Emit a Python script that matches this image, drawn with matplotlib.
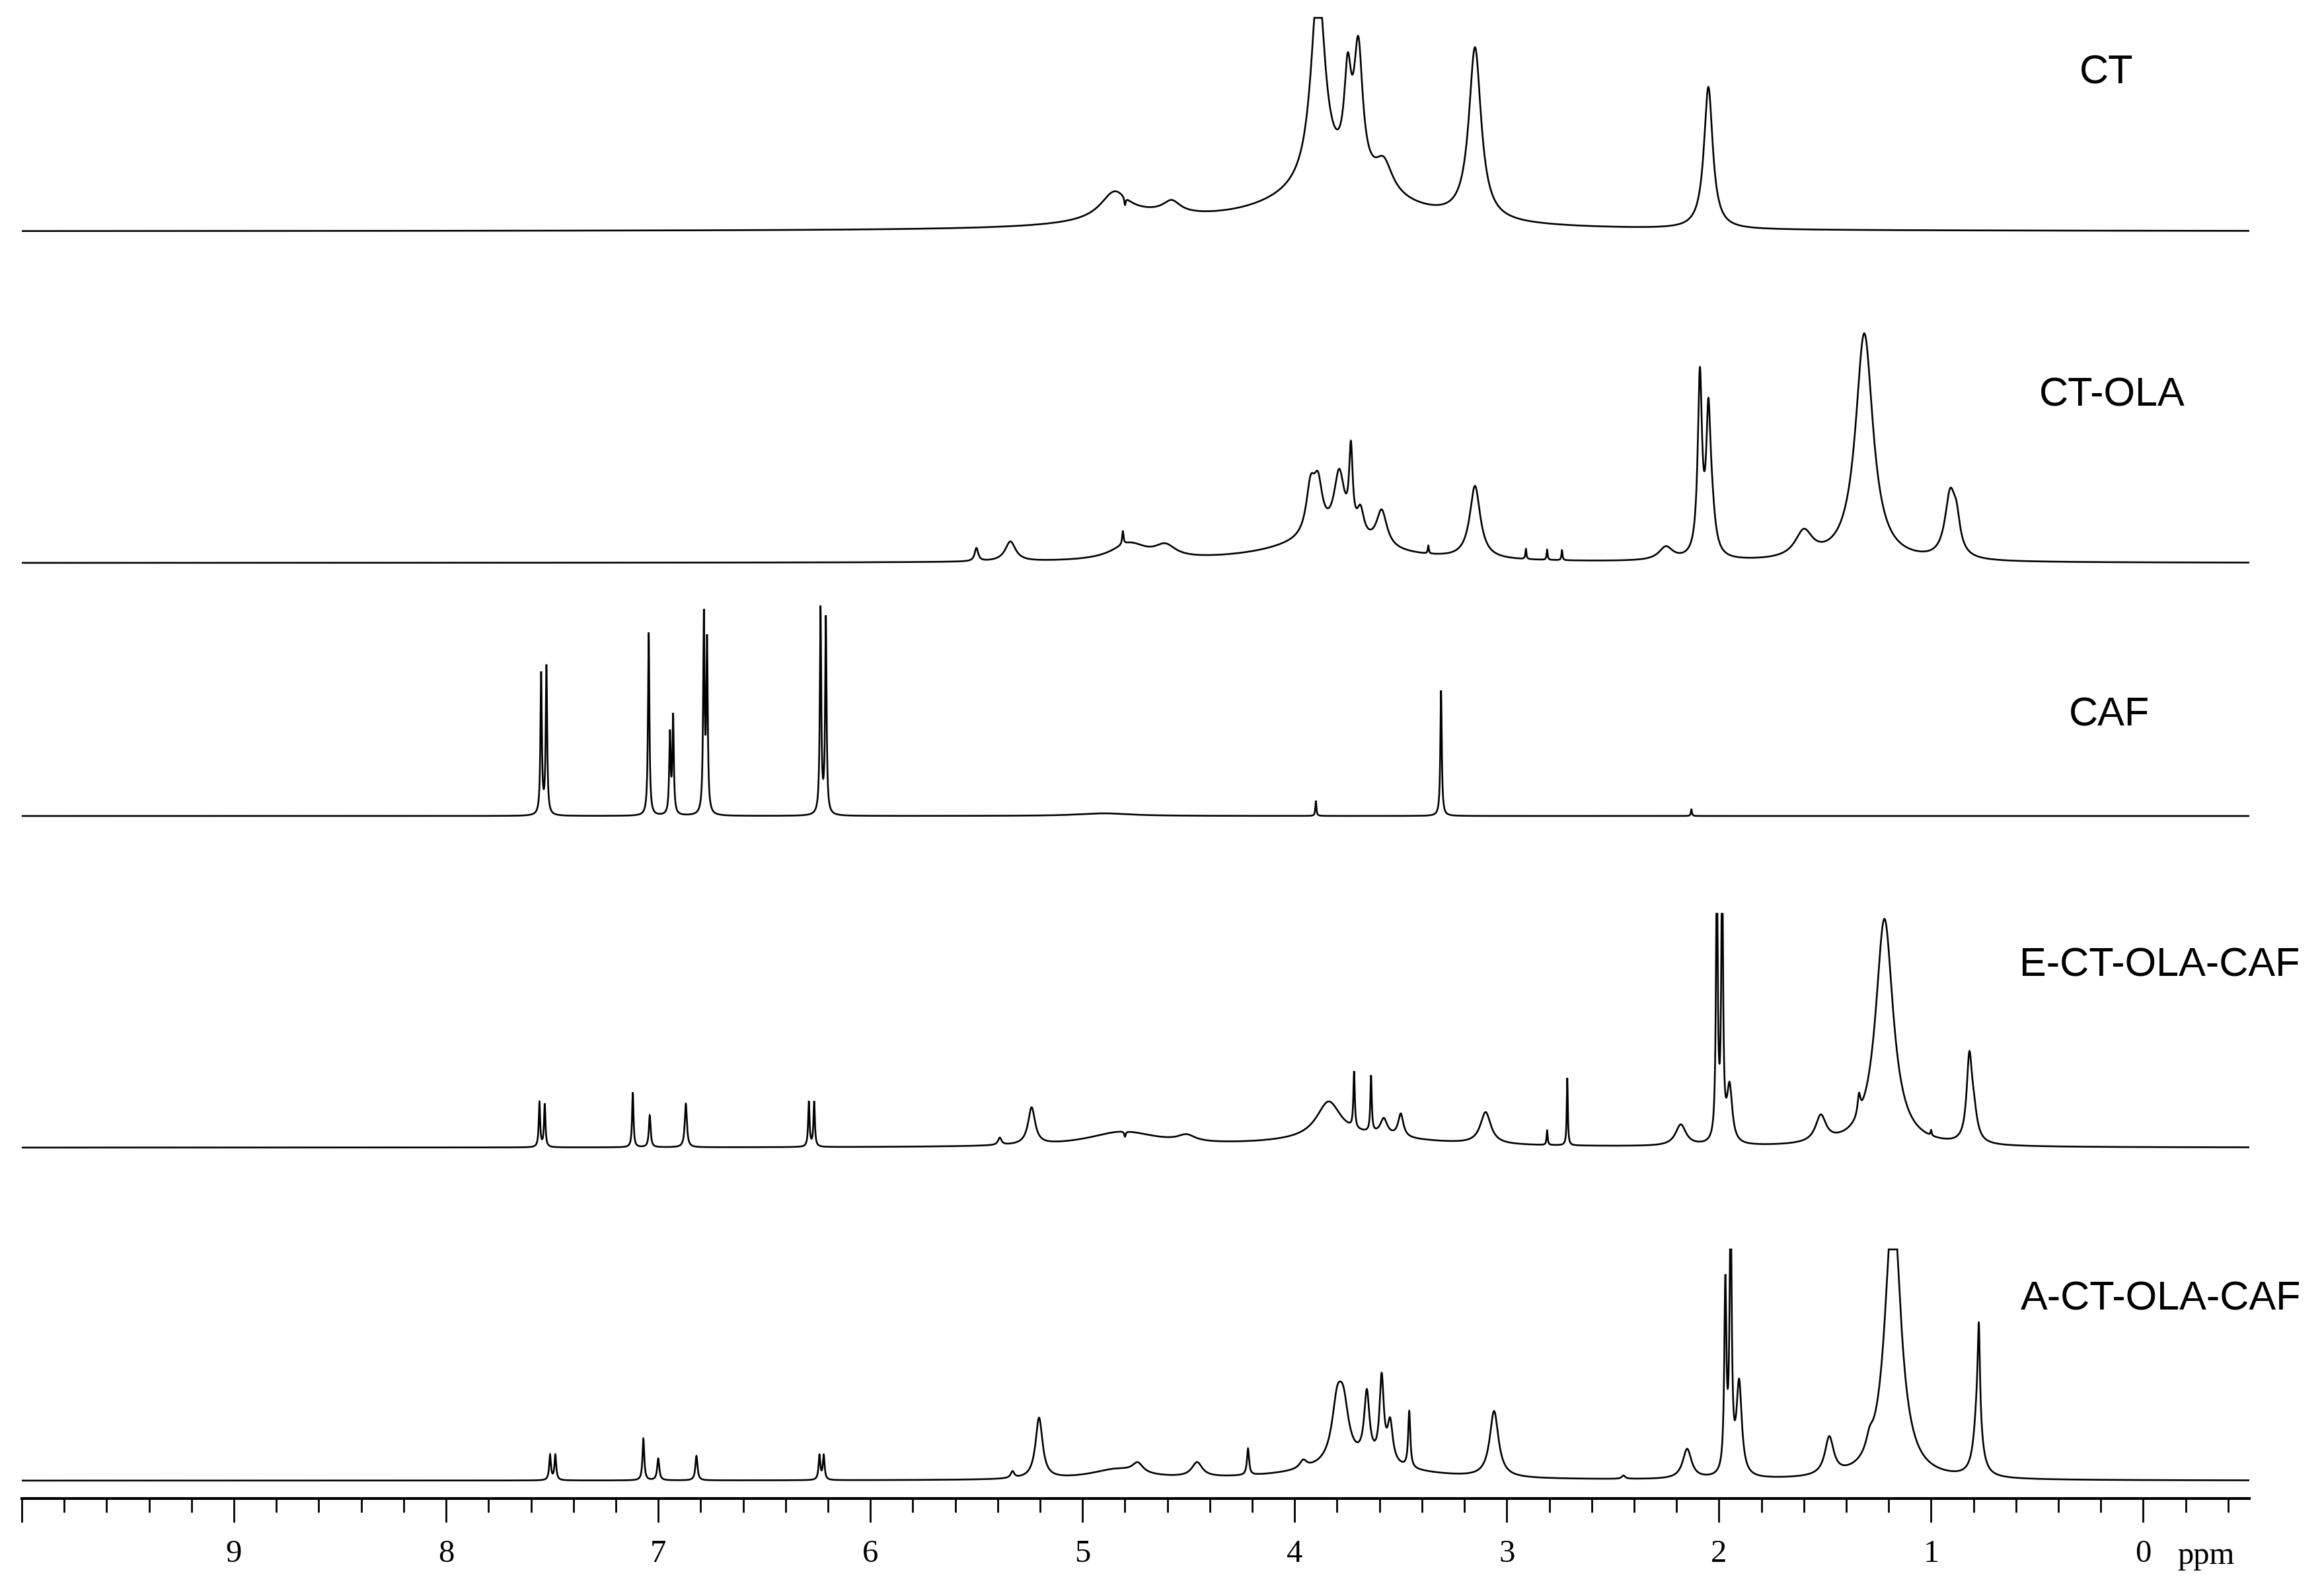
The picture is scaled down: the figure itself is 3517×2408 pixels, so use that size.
import numpy as np
import matplotlib
matplotlib.use("Agg")
import matplotlib.pyplot as plt
from matplotlib.ticker import FixedLocator

# ---------------- data (peak tables) ----------------
labels = ["CT", "CT-OLA", "CAF", "E-CT-OLA-CAF", "A-CT-OLA-CAF"]

# CT
ct_ppm = [3.89, 3.75, 3.70, 3.58, 3.80, 3.15, 2.05, 4.85, 4.70, 4.58, 4.80]
ct_int = [300, 135, 190, 45, 70, 260, 215, 40, 15, 18, -12]
ct_hw = [0.04, 0.02, 0.025, 0.05, 0.35, 0.035, 0.025, 0.08, 0.3, 0.05, 0.004]

# CT-OLA
ctola_ppm = [5.50, 5.34, 4.81, 4.78, 4.61, 3.85, 3.925, 3.89, 3.79, 3.735, 3.69, 3.59,
             3.37, 3.15, 2.91, 2.81, 2.74, 2.25, 2.09, 2.05, 2.035, 1.60, 1.315, 0.91, 0.88]
ctola_int = [20, 30, 20, 25, 18, 35, 70, 70, 95, 120, 40, 55,
             12, 110, 15, 15, 15, 20, 270, 185, 60, 40, 345, 95, 40]
ctola_hw = [0.01, 0.03, 0.004, 0.1, 0.06, 0.3, 0.025, 0.025, 0.03, 0.01, 0.02, 0.03,
            0.003, 0.03, 0.003, 0.003, 0.003, 0.04, 0.012, 0.012, 0.02, 0.05, 0.05, 0.03, 0.02]

# CAF
caf_ppm = [7.552, 7.527, 7.045, 6.945, 6.93, 6.785, 6.77, 6.235, 6.21, 3.90, 3.31, 2.13, 4.90]
caf_int = [213, 224, 277, 120, 147, 296, 255, 310, 296, 23, 190, 10, 4]
caf_hw = [0.004, 0.004, 0.004, 0.004, 0.004, 0.004, 0.004, 0.004, 0.004, 0.003, 0.004, 0.003, 0.15]

# E-CT-OLA-CAF
e_ppm = [7.56, 7.535, 7.12, 7.04, 6.87, 6.29, 6.265, 5.39, 5.24, 4.81, 4.80, 4.51,
         3.84, 3.70, 3.72, 3.64, 3.58, 3.50, 3.10, 2.81, 2.715, 2.18, 2.01, 1.985,
         1.95, 1.52, 1.34, 1.22, 1.00, 0.82, 0.80]
e_int = [68, 65, 83, 48, 66, 68, 68, 11, 56, 22, -8, 10,
         55, 15, 85, 85, 25, 35, 48, 22, 102, 32, 420, 420,
         85, 40, 30, 345, 8, 120, 40]
e_hw = [0.004, 0.004, 0.004, 0.005, 0.006, 0.004, 0.004, 0.01, 0.02, 0.2, 0.004, 0.05,
        0.07, 0.4, 0.004, 0.004, 0.02, 0.015, 0.03, 0.003, 0.003, 0.03, 0.005, 0.005,
        0.015, 0.03, 0.008, 0.05, 0.003, 0.015, 0.02]

# A-CT-OLA-CAF
a_ppm = [7.51, 7.485, 7.07, 7.00, 6.82, 6.24, 6.22, 5.33, 5.205, 4.84, 4.74, 4.46,
         4.22, 3.96, 3.80, 3.77, 3.70, 3.66, 3.59, 3.55, 3.46, 3.06, 2.45, 2.15,
         1.97, 1.945, 1.905, 1.48, 1.29, 1.18, 0.775, 0.78]
a_int = [38, 38, 63, 33, 37, 37, 37, 10, 92, 15, 15, 22,
         40, 12, 80, 75, 25, 100, 125, 60, 85, 100, 5, 45,
         280, 400, 140, 57, 20, 420, 130, 110]
a_hw = [0.005, 0.005, 0.005, 0.006, 0.006, 0.005, 0.005, 0.01, 0.02, 0.15, 0.03, 0.03,
        0.006, 0.02, 0.03, 0.03, 0.3, 0.015, 0.012, 0.015, 0.006, 0.025, 0.01, 0.025,
        0.006, 0.006, 0.015, 0.025, 0.02, 0.045, 0.006, 0.02]

# vertical offsets of each trace and plotter clipping level
offsets = [1918, 1416, 1033, 531, 27]
clips = [323, 1000, 1000, 354, 350]

major_ticks = [0, 1, 2, 3, 4, 5, 6, 7, 8, 9, 10]
major_labels = ["0", "1", "2", "3", "4", "5", "6", "7", "8", "9", ""]

# ---------------- drawing ----------------
W, H = 3517, 2408
fig = plt.figure(figsize=(W / 100, H / 100), dpi=100)
fig.patch.set_facecolor("white")

ax_left, ax_right, ax_bottom = 33, 3404, 2268
ax = fig.add_axes([ax_left / W, (H - ax_bottom) / H, (ax_right - ax_left) / W, ax_bottom / H])
ax.set_xlim(10, -0.5)
ax.set_ylim(0, ax_bottom)

x = np.linspace(10, -0.5, 80000)


def spectrum(ppm, inten, hw):
    y = np.zeros_like(x)
    for p, h, w in zip(ppm, inten, hw):
        y += h / (1.0 + ((x - p) / w) ** 2)
    return y


tables = [(ct_ppm, ct_int, ct_hw), (ctola_ppm, ctola_int, ctola_hw),
          (caf_ppm, caf_int, caf_hw), (e_ppm, e_int, e_hw), (a_ppm, a_int, a_hw)]

for (pp, ii, ww), off, clip in zip(tables, offsets, clips):
    y = np.minimum(spectrum(pp, ii, ww), clip)
    ax.plot(x, off + y, color="black", lw=1.9, solid_joinstyle="miter")

for sp in ["top", "left", "right"]:
    ax.spines[sp].set_visible(False)
ax.spines["bottom"].set_linewidth(3.0)
ax.set_yticks([])

ax.xaxis.set_major_locator(FixedLocator(major_ticks))
ax.set_xticklabels(major_labels)
minor = [round(v, 1) for v in np.arange(-0.4, 10.0, 0.2) if abs(v - round(v)) > 1e-6]
ax.xaxis.set_minor_locator(FixedLocator(minor))
ax.tick_params(axis="x", which="major", direction="out", length=26, width=2.0,
               pad=19, labelsize=35)
ax.tick_params(axis="x", which="minor", direction="out", length=15, width=2.0)
for lab in ax.get_xticklabels():
    lab.set_fontfamily("Liberation Serif")

fig.text(3338 / W, 1 - 2355 / H, "ppm", fontfamily="Liberation Serif", fontsize=35,
         ha="center", va="center")

label_pos = [(3188, 111), (3196, 599), (3192, 1083), (3268, 1462), (3270, 1967)]
for lab, (lx, ly) in zip(labels, label_pos):
    fig.text(lx / W, 1 - ly / H, lab, fontfamily="Liberation Sans", fontsize=44,
             ha="center", va="center")

fig.savefig("out.png", dpi=100, facecolor="white")
